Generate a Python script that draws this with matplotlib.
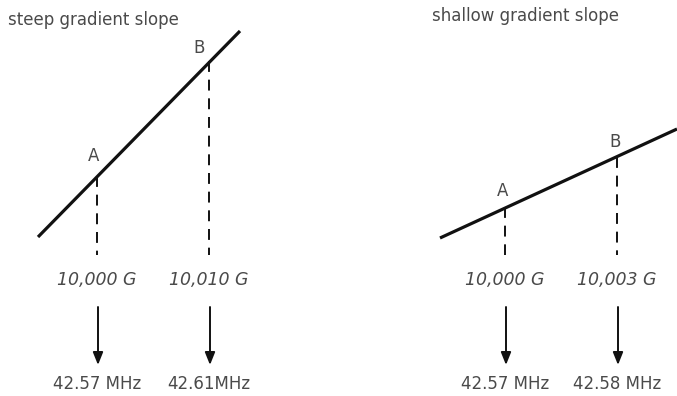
import matplotlib.pyplot as plt

# panel titles
titles = ['steep gradient slope', 'shallow gradient slope']
title_pos = [(8, 20), (432, 16)]

# gradient lines (pixel space of the figure): start and end points
grad_x = [[38, 240], [440, 677]]
grad_y = [[237, 31], [238, 129]]

# points A and B on each gradient
point_names = ['A', 'B']
point_x = [[97, 209], [505, 617]]
point_y = [[176, 61], [207, 157]]
label_x = [[94, 199], [503, 615]]
label_y = [[156, 48], [191, 142]]

# field strengths and resulting frequencies
fields = [['10,000 G', '10,010 G'], ['10,000 G', '10,003 G']]
freqs = [['42.57 MHz', '42.61MHz'], ['42.57 MHz', '42.58 MHz']]

ink = '#111111'
txt = '#4a4a4a'

fig = plt.figure(figsize=(6.77, 3.96), dpi=100)
ax = fig.add_axes([0, 0, 1, 1])
ax.set_xlim(0, 677)
ax.set_ylim(396, 0)
ax.axis('off')

for p in range(2):
    ax.text(title_pos[p][0], title_pos[p][1], titles[p], fontsize=12,
            color=txt, ha='left', va='center')
    ax.plot(grad_x[p], grad_y[p], color=ink, lw=2.3, solid_capstyle='butt')
    for i in range(2):
        x, y = point_x[p][i], point_y[p][i]
        ax.plot([x, x], [y, 255], color=ink, lw=1.4, ls=(0, (5.6, 4)))
        ax.text(label_x[p][i], label_y[p][i], point_names[i], fontsize=12,
                color=txt, ha='center', va='center')
        ax.text(x, 280, fields[p][i], fontsize=12.5, color=txt, style='italic',
                ha='center', va='center')
        ax.annotate('', xy=(x + 1, 365), xytext=(x + 1, 307),
                    arrowprops=dict(arrowstyle='-|>,head_length=0.75,head_width=0.3',
                                    color=ink, lw=1.4, shrinkA=0, shrinkB=0))
        ax.text(x, 384, freqs[p][i], fontsize=12, color=txt,
                ha='center', va='center')

fig.savefig('out.png', dpi=100)
